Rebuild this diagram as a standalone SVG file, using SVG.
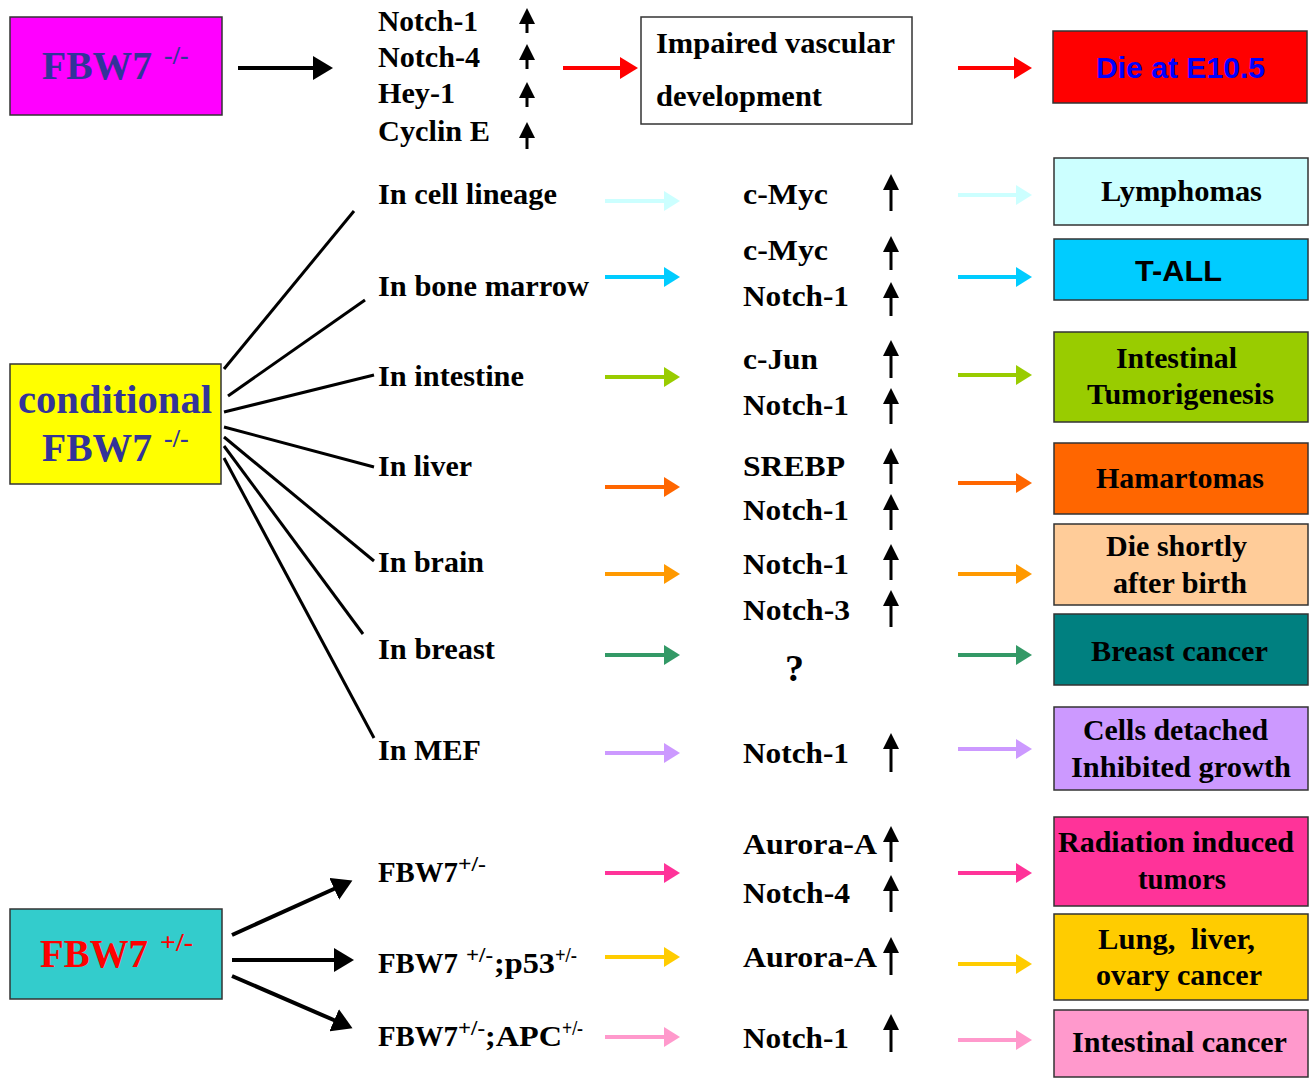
<svg xmlns="http://www.w3.org/2000/svg" width="1314" height="1079" viewBox="0 0 1314 1079">
<style>
.t{font-family:"Liberation Serif","Times New Roman",serif;font-weight:bold;font-size:29px;fill:#000}
.a{font-family:"Liberation Sans",Arial,sans-serif;font-weight:bold;font-size:29px}
.big{font-size:40px}
.sup{font-size:26px}
.sm{font-size:22px}
.box{stroke:#333;stroke-width:1.5}
.ln{stroke:#000;stroke-width:3;fill:none}
.bk{stroke:#000;stroke-width:4;fill:none}
.up{stroke:#000;stroke-width:3;fill:none}
.ca{stroke-width:4;fill:none}
</style>
<defs>
<marker id="hb" markerUnits="userSpaceOnUse" markerWidth="22" markerHeight="24" refX="2" refY="12" orient="auto"><path d="M0,0 L20,12 L0,24 z" fill="#000"/></marker>
<marker id="hu" markerUnits="userSpaceOnUse" markerWidth="16" markerHeight="16" refX="1" refY="8" orient="auto"><path d="M0,0 L16,8 L0,16 z" fill="#000"/></marker>
<marker id="m-red" markerUnits="userSpaceOnUse" markerWidth="18" markerHeight="22" refX="2" refY="11" orient="auto"><path d="M0,0 L18,11 L0,22 z" fill="#ff0000"/></marker>
<marker id="m-c1" markerUnits="userSpaceOnUse" markerWidth="16" markerHeight="20" refX="2" refY="10" orient="auto"><path d="M0,0 L16,10 L0,20 z" fill="#ccffff"/></marker>
<marker id="m-c2" markerUnits="userSpaceOnUse" markerWidth="16" markerHeight="20" refX="2" refY="10" orient="auto"><path d="M0,0 L16,10 L0,20 z" fill="#00ccff"/></marker>
<marker id="m-c3" markerUnits="userSpaceOnUse" markerWidth="16" markerHeight="20" refX="2" refY="10" orient="auto"><path d="M0,0 L16,10 L0,20 z" fill="#99cc00"/></marker>
<marker id="m-c4" markerUnits="userSpaceOnUse" markerWidth="16" markerHeight="20" refX="2" refY="10" orient="auto"><path d="M0,0 L16,10 L0,20 z" fill="#ff6600"/></marker>
<marker id="m-c5" markerUnits="userSpaceOnUse" markerWidth="16" markerHeight="20" refX="2" refY="10" orient="auto"><path d="M0,0 L16,10 L0,20 z" fill="#ff9900"/></marker>
<marker id="m-c6" markerUnits="userSpaceOnUse" markerWidth="16" markerHeight="20" refX="2" refY="10" orient="auto"><path d="M0,0 L16,10 L0,20 z" fill="#339966"/></marker>
<marker id="m-c7" markerUnits="userSpaceOnUse" markerWidth="16" markerHeight="20" refX="2" refY="10" orient="auto"><path d="M0,0 L16,10 L0,20 z" fill="#cc99ff"/></marker>
<marker id="m-c8" markerUnits="userSpaceOnUse" markerWidth="16" markerHeight="20" refX="2" refY="10" orient="auto"><path d="M0,0 L16,10 L0,20 z" fill="#ff3399"/></marker>
<marker id="m-c9" markerUnits="userSpaceOnUse" markerWidth="16" markerHeight="20" refX="2" refY="10" orient="auto"><path d="M0,0 L16,10 L0,20 z" fill="#ffcc00"/></marker>
<marker id="m-c10" markerUnits="userSpaceOnUse" markerWidth="16" markerHeight="20" refX="2" refY="10" orient="auto"><path d="M0,0 L16,10 L0,20 z" fill="#ff99cc"/></marker>
</defs>
<rect width="1314" height="1079" fill="#fff"/>

<g id="connectors">
<path class="bk" d="M238,68 H315" marker-end="url(#hb)"/>
<path class="ca" stroke="#ff0000" d="M563,68 H622" marker-end="url(#m-red)"/>
<path class="ca" stroke="#ff0000" d="M958,68 H1016" marker-end="url(#m-red)"/>
<path class="ln" d="M224,369 L354,211"/>
<path class="ln" d="M228,396 L365,300"/>
<path class="ln" d="M224,412 L374,375"/>
<path class="ln" d="M224,427 L374,467"/>
<path class="ln" d="M224,437 L374,561"/>
<path class="ln" d="M224,446 L363,634"/>
<path class="ln" d="M224,458 L374,738"/>
<path class="bk" d="M232,935 L336,888" marker-end="url(#hb)"/>
<path class="bk" d="M232,960 H336" marker-end="url(#hb)"/>
<path class="bk" d="M232,976 L336,1021" marker-end="url(#hb)"/>
<path class="ca" stroke="#ccffff" d="M605,201 H666" marker-end="url(#m-c1)"/>
<path class="ca" stroke="#00ccff" d="M605,277 H666" marker-end="url(#m-c2)"/>
<path class="ca" stroke="#99cc00" d="M605,377 H666" marker-end="url(#m-c3)"/>
<path class="ca" stroke="#ff6600" d="M605,487 H666" marker-end="url(#m-c4)"/>
<path class="ca" stroke="#ff9900" d="M605,574 H666" marker-end="url(#m-c5)"/>
<path class="ca" stroke="#339966" d="M605,655 H666" marker-end="url(#m-c6)"/>
<path class="ca" stroke="#cc99ff" d="M605,753 H666" marker-end="url(#m-c7)"/>
<path class="ca" stroke="#ff3399" d="M605,873 H666" marker-end="url(#m-c8)"/>
<path class="ca" stroke="#ffcc00" d="M605,957 H666" marker-end="url(#m-c9)"/>
<path class="ca" stroke="#ff99cc" d="M605,1037 H666" marker-end="url(#m-c10)"/>
<path class="ca" stroke="#ccffff" d="M958,195 H1018" marker-end="url(#m-c1)"/>
<path class="ca" stroke="#00ccff" d="M958,277 H1018" marker-end="url(#m-c2)"/>
<path class="ca" stroke="#99cc00" d="M958,375 H1018" marker-end="url(#m-c3)"/>
<path class="ca" stroke="#ff6600" d="M958,483 H1018" marker-end="url(#m-c4)"/>
<path class="ca" stroke="#ff9900" d="M958,574 H1018" marker-end="url(#m-c5)"/>
<path class="ca" stroke="#339966" d="M958,655 H1018" marker-end="url(#m-c6)"/>
<path class="ca" stroke="#cc99ff" d="M958,749 H1018" marker-end="url(#m-c7)"/>
<path class="ca" stroke="#ff3399" d="M958,873 H1018" marker-end="url(#m-c8)"/>
<path class="ca" stroke="#ffcc00" d="M958,964 H1018" marker-end="url(#m-c9)"/>
<path class="ca" stroke="#ff99cc" d="M958,1040 H1018" marker-end="url(#m-c10)"/>
</g>

<g id="up-arrows">
<path class="up" d="M527,33 V23" marker-end="url(#hu)"/>
<path class="up" d="M527,69 V59" marker-end="url(#hu)"/>
<path class="up" d="M527,107 V97" marker-end="url(#hu)"/>
<path class="up" d="M527,149 V137" marker-end="url(#hu)"/>
<path class="up" d="M891,211 V189" marker-end="url(#hu)"/>
<path class="up" d="M891,270 V251" marker-end="url(#hu)"/>
<path class="up" d="M891,316 V297" marker-end="url(#hu)"/>
<path class="up" d="M891,378 V355" marker-end="url(#hu)"/>
<path class="up" d="M891,424 V403" marker-end="url(#hu)"/>
<path class="up" d="M891,484 V463" marker-end="url(#hu)"/>
<path class="up" d="M891,530 V509" marker-end="url(#hu)"/>
<path class="up" d="M891,580 V559" marker-end="url(#hu)"/>
<path class="up" d="M891,627 V605" marker-end="url(#hu)"/>
<path class="up" d="M891,772 V748" marker-end="url(#hu)"/>
<path class="up" d="M891,862 V841" marker-end="url(#hu)"/>
<path class="up" d="M891,912 V890" marker-end="url(#hu)"/>
<path class="up" d="M891,975 V952" marker-end="url(#hu)"/>
<path class="up" d="M891,1052 V1029" marker-end="url(#hu)"/>
</g>

<g id="node-fbw7-null">
<rect class="box" x="10" y="17" width="212" height="98" fill="#ff00ff"/>
<text class="t big" x="42" y="79" style="fill:#333399" textLength="110" lengthAdjust="spacingAndGlyphs">FBW7</text>
<text class="t sup" x="164" y="64" style="fill:#333399">-/-</text>
</g>

<g id="node-top-genes">
<text class="t" x="378" y="31" textLength="100" lengthAdjust="spacingAndGlyphs">Notch-1</text>
<text class="t" x="378" y="67" textLength="102" lengthAdjust="spacingAndGlyphs">Notch-4</text>
<text class="t" x="378" y="103" textLength="77" lengthAdjust="spacingAndGlyphs">Hey-1</text>
<text class="t" x="378" y="141" textLength="112" lengthAdjust="spacingAndGlyphs">Cyclin E</text>
</g>

<g id="node-impaired">
<rect class="box" x="641" y="17" width="271" height="107" fill="#fff"/>
<text class="t" x="656" y="53" textLength="239" lengthAdjust="spacingAndGlyphs">Impaired vascular</text>
<text class="t" x="656" y="106" textLength="166" lengthAdjust="spacingAndGlyphs">development</text>
</g>

<g id="node-die-e105">
<rect class="box" x="1053" y="31" width="254" height="72" fill="#ff0000"/>
<text class="a" x="1096" y="78" fill="#0000ff" textLength="169" lengthAdjust="spacingAndGlyphs">Die at E10.5</text>
</g>

<g id="node-conditional">
<rect class="box" x="10" y="364" width="211" height="120" fill="#ffff00"/>
<text class="t big" x="18" y="413" style="fill:#333399" textLength="194" lengthAdjust="spacingAndGlyphs">conditional</text>
<text class="t big" x="42" y="461" style="fill:#333399" textLength="110" lengthAdjust="spacingAndGlyphs">FBW7</text>
<text class="t sup" x="164" y="447" style="fill:#333399">-/-</text>
</g>

<g id="node-tissues">
<text class="t" x="378" y="204" textLength="179" lengthAdjust="spacingAndGlyphs">In cell lineage</text>
<text class="t" x="378" y="296" textLength="211" lengthAdjust="spacingAndGlyphs">In bone marrow</text>
<text class="t" x="378" y="386" textLength="146" lengthAdjust="spacingAndGlyphs">In intestine</text>
<text class="t" x="378" y="476" textLength="94" lengthAdjust="spacingAndGlyphs">In liver</text>
<text class="t" x="378" y="572" textLength="106" lengthAdjust="spacingAndGlyphs">In brain</text>
<text class="t" x="378" y="659" textLength="117" lengthAdjust="spacingAndGlyphs">In breast</text>
<text class="t" x="378" y="760" textLength="103" lengthAdjust="spacingAndGlyphs">In MEF</text>
</g>

<g id="node-genes">
<text class="t" x="743" y="204" textLength="85" lengthAdjust="spacingAndGlyphs">c-Myc</text>
<text class="t" x="743" y="260" textLength="85" lengthAdjust="spacingAndGlyphs">c-Myc</text>
<text class="t" x="743" y="306" textLength="106" lengthAdjust="spacingAndGlyphs">Notch-1</text>
<text class="t" x="743" y="369" textLength="75" lengthAdjust="spacingAndGlyphs">c-Jun</text>
<text class="t" x="743" y="415" textLength="106" lengthAdjust="spacingAndGlyphs">Notch-1</text>
<text class="t" x="743" y="476" textLength="102" lengthAdjust="spacingAndGlyphs">SREBP</text>
<text class="t" x="743" y="520" textLength="106" lengthAdjust="spacingAndGlyphs">Notch-1</text>
<text class="t" x="743" y="574" textLength="106" lengthAdjust="spacingAndGlyphs">Notch-1</text>
<text class="t" x="743" y="620" textLength="107" lengthAdjust="spacingAndGlyphs">Notch-3</text>
<text class="t" x="785" y="681" style="font-size:38px">?</text>
<text class="t" x="743" y="763" textLength="106" lengthAdjust="spacingAndGlyphs">Notch-1</text>
<text class="t" x="743" y="854" textLength="134" lengthAdjust="spacingAndGlyphs">Aurora-A</text>
<text class="t" x="743" y="903" textLength="107" lengthAdjust="spacingAndGlyphs">Notch-4</text>
<text class="t" x="743" y="967" textLength="134" lengthAdjust="spacingAndGlyphs">Aurora-A</text>
<text class="t" x="743" y="1048" textLength="106" lengthAdjust="spacingAndGlyphs">Notch-1</text>
</g>

<g id="node-lymphomas">
<rect class="box" x="1054" y="158" width="254" height="67" fill="#ccffff"/>
<text class="t" x="1101" y="201" textLength="161" lengthAdjust="spacingAndGlyphs">Lymphomas</text>
</g>
<g id="node-tall">
<rect class="box" x="1054" y="239" width="254" height="61" fill="#00ccff"/>
<text class="a" x="1135" y="281" textLength="87" lengthAdjust="spacingAndGlyphs">T-ALL</text>
</g>
<g id="node-intestinal-tumorigenesis">
<rect class="box" x="1054" y="332" width="254" height="90" fill="#99cc00"/>
<text class="t" x="1116" y="368" textLength="121" lengthAdjust="spacingAndGlyphs">Intestinal</text>
<text class="t" x="1087" y="404" textLength="187" lengthAdjust="spacingAndGlyphs">Tumorigenesis</text>
</g>
<g id="node-hamartomas">
<rect class="box" x="1054" y="443" width="254" height="71" fill="#ff6600"/>
<text class="t" x="1096" y="488" textLength="168" lengthAdjust="spacingAndGlyphs">Hamartomas</text>
</g>
<g id="node-die-shortly">
<rect class="box" x="1054" y="524" width="254" height="81" fill="#ffcc99"/>
<text class="t" x="1106" y="556" textLength="141" lengthAdjust="spacingAndGlyphs">Die shortly</text>
<text class="t" x="1113" y="593" textLength="134" lengthAdjust="spacingAndGlyphs">after birth</text>
</g>
<g id="node-breast-cancer">
<rect class="box" x="1054" y="614" width="254" height="71" fill="#008080"/>
<text class="t" x="1091" y="661" textLength="177" lengthAdjust="spacingAndGlyphs">Breast cancer</text>
</g>
<g id="node-cells-detached">
<rect class="box" x="1054" y="707" width="254" height="83" fill="#cc99ff"/>
<text class="t" x="1083" y="740" textLength="185" lengthAdjust="spacingAndGlyphs">Cells detached</text>
<text class="t" x="1071" y="777" textLength="220" lengthAdjust="spacingAndGlyphs">Inhibited growth</text>
</g>
<g id="node-radiation">
<rect class="box" x="1054" y="817" width="254" height="89" fill="#ff3399"/>
<text class="t" x="1058" y="852" textLength="236" lengthAdjust="spacingAndGlyphs">Radiation induced</text>
<text class="t" x="1138" y="889" textLength="88" lengthAdjust="spacingAndGlyphs">tumors</text>
</g>
<g id="node-lung">
<rect class="box" x="1054" y="914" width="254" height="86" fill="#ffcc00"/>
<text class="t" x="1098" y="949" style="white-space:pre" textLength="157" lengthAdjust="spacingAndGlyphs">Lung,  liver,</text>
<text class="t" x="1096" y="985" textLength="166" lengthAdjust="spacingAndGlyphs">ovary cancer</text>
</g>
<g id="node-intestinal-cancer">
<rect class="box" x="1054" y="1010" width="254" height="67" fill="#ff99cc"/>
<text class="t" x="1072" y="1052" textLength="215" lengthAdjust="spacingAndGlyphs">Intestinal cancer</text>
</g>

<g id="node-fbw7-het">
<rect class="box" x="10" y="909" width="212" height="90" fill="#33cccc"/>
<text class="t big" x="40" y="967" style="fill:#ff0000" textLength="108" lengthAdjust="spacingAndGlyphs">FBW7</text>
<text class="t sup" x="160" y="951" style="fill:#ff0000" textLength="33" lengthAdjust="spacingAndGlyphs">+/-</text>
</g>

<g id="node-genotypes">
<text class="t" x="378" y="882" textLength="80" lengthAdjust="spacingAndGlyphs">FBW7</text>
<text class="t sm" x="458" y="871" textLength="28" lengthAdjust="spacingAndGlyphs">+/-</text>
<text class="t" x="378" y="973" textLength="80" lengthAdjust="spacingAndGlyphs">FBW7</text>
<text class="t sm" x="466" y="962" textLength="27" lengthAdjust="spacingAndGlyphs">+/-</text>
<text class="t" x="494" y="973" textLength="61" lengthAdjust="spacingAndGlyphs">;p53</text>
<text class="t sm" x="555" y="962" textLength="22" lengthAdjust="spacingAndGlyphs">+/-</text>
<text class="t" x="378" y="1046" textLength="80" lengthAdjust="spacingAndGlyphs">FBW7</text>
<text class="t sm" x="458" y="1035" textLength="27" lengthAdjust="spacingAndGlyphs">+/-</text>
<text class="t" x="485" y="1046" textLength="77" lengthAdjust="spacingAndGlyphs">;APC</text>
<text class="t sm" x="562" y="1035" textLength="21" lengthAdjust="spacingAndGlyphs">+/-</text>
</g>
</svg>
